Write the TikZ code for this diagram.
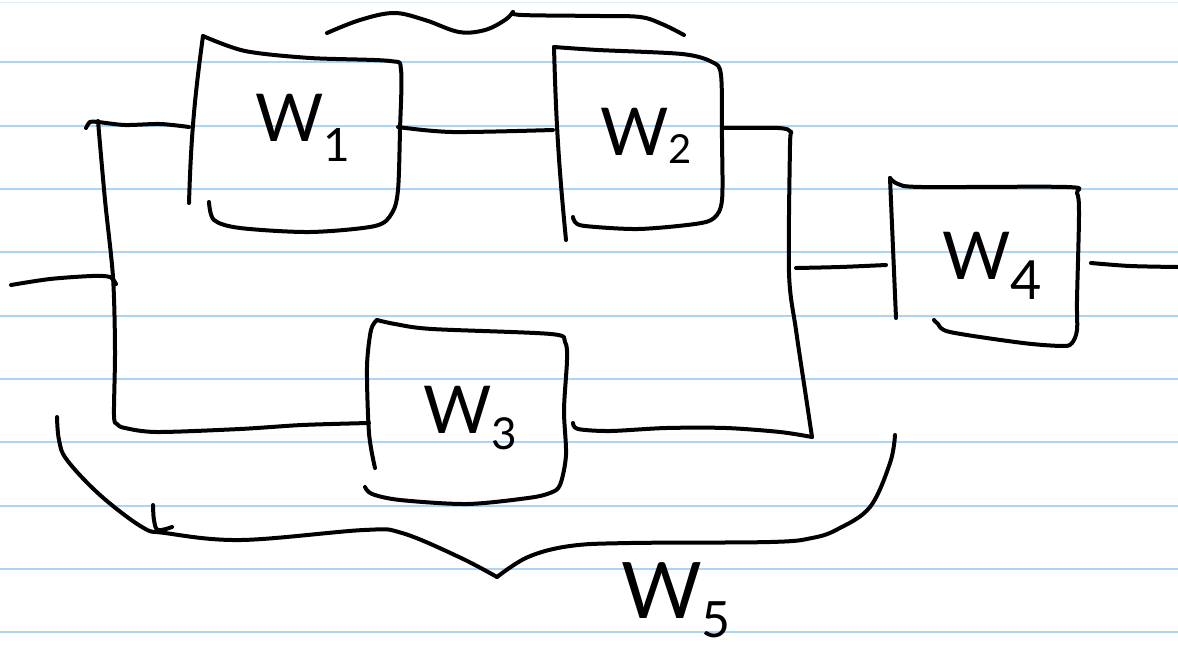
\documentclass[tikz,border=0pt]{standalone}
\usepackage{fontspec}
\setmainfont{Lato}
\begin{document}
\begin{tikzpicture}[x=1pt,y=-1pt,
  ink/.style={line width=4pt,line cap=round,line join=round,black},
  rule/.style={line width=2.2pt,color=paperblue},
  lbl/.style={inner sep=0pt,font=\fontsize{66}{66}\selectfont}]
\definecolor{paperblue}{RGB}{172,212,250}
\useasboundingbox (0,0) rectangle (1178,651);
\fill[white] (0,0) rectangle (1178,651);
% ruled paper
\foreach \y in {62,126,189,252,316,379,442,506,569,632}
  \draw[rule] (0,\y) -- (1178,\y);
\draw[line width=1pt,color=paperblue!40] (0,2) -- (1178,2);

% named points
\coordinate (in) at (11,285);
\coordinate (w1l) at (189,127);
\coordinate (w1r) at (398,127);
\coordinate (w2l) at (553,130);
\coordinate (w2r) at (722,128);
\coordinate (w3l) at (369,423);
\coordinate (w3r) at (573,423);
\coordinate (jr) at (796,268);
\coordinate (w4l) at (886,265);
\coordinate (w4r) at (1091,263);
\coordinate (out) at (1178,267);

% W1 box
\draw[ink] (189,203) to[bend left=3] (203,36);
\draw[ink] plot[smooth,tension=0.5] coordinates {(203,36) (245,51) (310,58) (390,61) (401,70) (400,130) (398,190) (392,213) (375,226) (310,232) (240,228) (214,220) (209,202)};
% W2 box
\draw[ink] (566,240) to[bend left=2] (554,47);
\draw[ink] plot[smooth,tension=0.5] coordinates {(554,47) (598,50) (682,54) (712,62) (721,75) (722,140) (722,200) (714,218) (695,224) (638,229) (585,226) (575,222) (573,217)};
% W3 box
\draw[ink] plot[smooth,tension=0.5] coordinates {(375,468) (369,433) (367,367) (371,330) (377,320)};
\draw[ink] plot[smooth,tension=0.5] coordinates {(377,320) (395,324) (432,329) (551,334) (565,342) (567,360) (564,410) (566,455) (560,485) (550,493) (528,498) (467,504) (400,500) (372,494) (365,487)};
% W4 box
\draw[ink] (896,318) -- (890,178);
\draw[ink] plot[smooth,tension=0.5] coordinates {(890,178) (898,184) (922,187) (1067,187) (1077,193) (1079,215) (1077,300) (1077,330) (1072,343) (1063,346) (1023,343) (950,332) (938,324) (934,320)};

% outer loop
\draw[ink] plot[smooth,tension=0.5] coordinates {(86,128) (90,122) (98,122) (125,125) (160,124) (w1l)};
\draw[ink] plot[smooth,tension=0.5] coordinates {(98,121) (105,200) (113,277) (115,350) (114,415) (117,424) (125,428) (157,432) (240,429) (302,425) (w3l)};
\draw[ink] plot[smooth,tension=0.5] coordinates {(w1r) (452,132) (w2l)};
\draw[ink] plot[smooth,tension=0.5] coordinates {(w2r) (778,128) (791,132) (790,145) (789,273) (796,330) (806,397) (812,437)};
\draw[ink] plot[smooth,tension=0.5] coordinates {(812,437) (780,432) (726,428) (666,428) (610,431) (578,429) (w3r)};
\draw[ink] plot[smooth,tension=0.5] coordinates {(in) (50,279) (92,276) (110,277) (116,284)};
\draw[ink] plot[smooth,tension=0.5] coordinates {(jr) (840,267) (w4l)};
\draw[ink] plot[smooth,tension=0.5] coordinates {(w4r) (1130,266) (out)};

% top brace
\draw[ink] plot[smooth,tension=0.6] coordinates {(327,33) (360,20) (394,13) (425,20) (459,32) (485,30) (505,20) (513,12)};
\draw[ink] plot[smooth,tension=0.6] coordinates {(513,12) (522,15) (600,16) (640,17) (662,24) (684,35)};
% bottom brace
\draw[ink] plot[smooth,tension=0.6] coordinates {(57,417) (59,440) (67,460) (100,495) (142,527) (165,533) (241,540) (364,530) (402,533) (459,557) (497,577)};
\draw[ink] plot[smooth,tension=0.6] coordinates {(497,577) (528,557) (570,546) (630,543) (770,542) (812,538) (838,529) (870,507) (890,463) (895,435)};
\draw[ink] plot[smooth,tension=0.6] coordinates {(153,505) (154,520) (158,530) (172,527)};

% labels
\node[lbl] (l1) at (303,128) {W\raisebox{-0.3em}{\fontsize{46}{46}\selectfont 1}};
\node[lbl] (l2) at (646,136) {W\raisebox{-0.12em}{\fontsize{40}{40}\selectfont 2}};
\node[lbl] (l3) at (470,418) {W\raisebox{-0.25em}{\fontsize{44}{44}\selectfont 3}};
\node[lbl] (l4) at (992,266) {W\raisebox{-0.3em}{\fontsize{54}{54}\selectfont 4}};
\node[lbl,font=\fontsize{78}{78}\selectfont] (l5) at (676,600) {W\raisebox{-0.25em}{\fontsize{50}{50}\selectfont 5}};
\end{tikzpicture}
\end{document}
